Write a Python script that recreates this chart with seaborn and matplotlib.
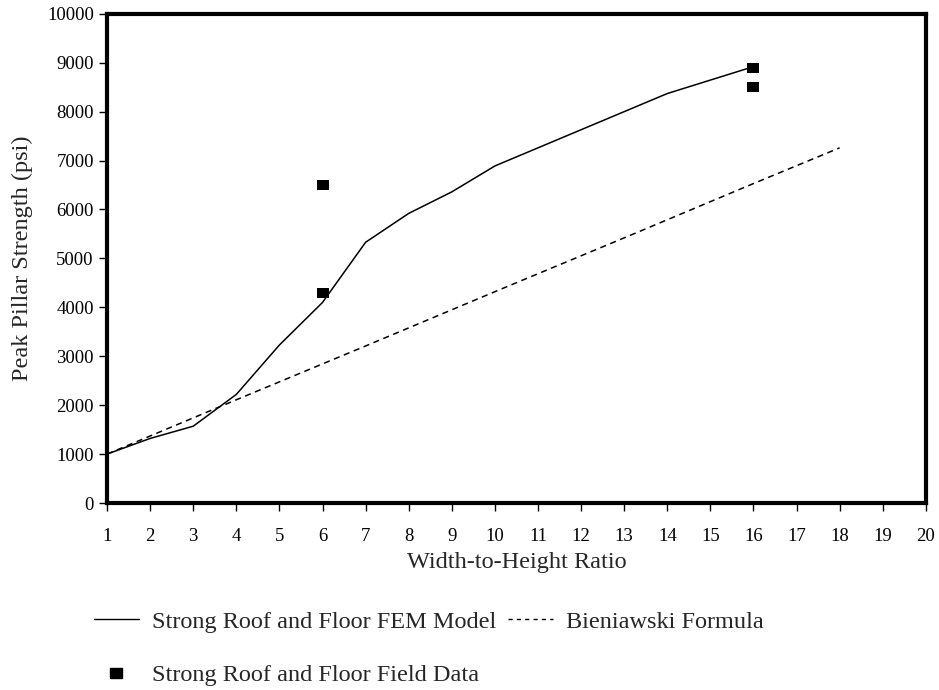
import matplotlib
matplotlib.use("Agg")
import matplotlib.pyplot as plt
from matplotlib.lines import Line2D
import seaborn as sns

# FEM model curve (strong roof and floor)
fem_ratio = [1, 2, 3, 4, 5, 6, 7, 8, 9, 10, 12, 14, 16]
fem_strength = [1000, 1320, 1570, 2220, 3230, 4100, 5330, 5920, 6360, 6890, 7630, 8370, 8920]

# Bieniawski formula line
bien_ratio = [1, 4, 7, 10, 13, 16, 18]
bien_strength = [1000, 2110, 3210, 4320, 5420, 6530, 7260]

# field data
field_ratio = [6, 6, 16, 16]
field_strength = [6500, 4300, 8900, 8500]

x_ticks = list(range(1, 21))
y_ticks = list(range(0, 10001, 1000))

sns.set_style("ticks")
plt.rcParams['font.family'] = ['Liberation Serif', 'DejaVu Serif']

fig = plt.figure(figsize=(9.39, 6.90), dpi=100)
ax = fig.add_axes([0.114, 0.271, 0.872, 0.709])

sns.lineplot(x=fem_ratio, y=fem_strength, ax=ax, color='black', linewidth=1.1)
sns.lineplot(x=bien_ratio, y=bien_strength, ax=ax, color='black', linewidth=1.1,
             linestyle=(0, (4, 3)))
rect = [(-1.35, -1), (1.35, -1), (1.35, 1), (-1.35, 1), (-1.35, -1)]
sns.scatterplot(x=field_ratio, y=field_strength, ax=ax, color='black',
                marker=rect, s=85, linewidth=0, zorder=5)

ax.set_xlim(1, 20)
ax.set_ylim(0, 10000)
ax.set_xticks(x_ticks)
ax.set_yticks(y_ticks)
ax.tick_params(axis='both', direction='out', length=6, width=1, labelsize=13.5,
               colors='black')
ax.tick_params(axis='x', pad=12)
for s in ax.spines.values():
    s.set_linewidth(3)
    s.set_color('black')

ax.set_xlabel("Width-to-Height Ratio", fontsize=17.5, labelpad=5)
ax.set_ylabel("Peak Pillar Strength (psi)", fontsize=17.5, labelpad=10)

handles = [
    Line2D([], [], color='black', linewidth=1),
    Line2D([], [], color='black', marker=rect, markersize=9, linestyle='none'),
    Line2D([], [], color='black', linewidth=1, linestyle=(0, (3, 3))),
]
labels = ["Strong Roof and Floor FEM Model",
          "Strong Roof and Floor Field Data",
          "Bieniawski Formula"]
fig.legend(handles, labels, ncol=2, loc='upper left', bbox_to_anchor=(0.1, 0.115),
           frameon=False, fontsize=17.5, handlelength=1.85, handletextpad=0.53,
           columnspacing=0.5, labelspacing=1.3, borderaxespad=0, borderpad=0)

fig.savefig("out.png", dpi=100)
